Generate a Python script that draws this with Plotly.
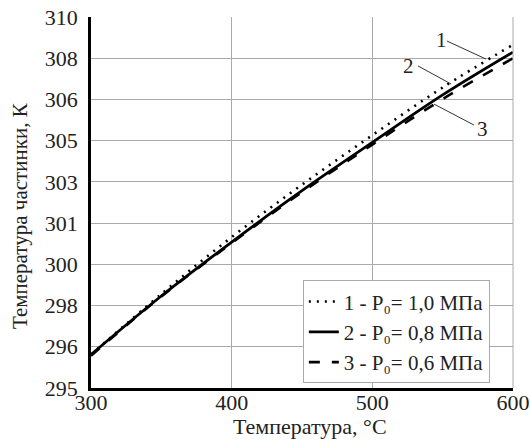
import plotly.graph_objects as go

# Data
temperature_c = [300, 350, 400, 450, 500, 550, 600]
t_p10 = [296.35, 298.80, 301.10, 303.22, 305.22, 307.15, 308.88]   # 1 - P0 = 1,0 MPa
t_p08 = [296.35, 298.72, 300.90, 302.98, 304.93, 306.85, 308.58]   # 2 - P0 = 0,8 MPa
t_p06 = [296.30, 298.70, 300.86, 302.92, 304.84, 306.68, 308.33]   # 3 - P0 = 0,6 MPa

series_names = ["1 - P₀= 1,0 МПа",
                "2 - P₀= 0,8 МПа",
                "3 - P₀= 0,6 МПа"]

x_ticks = [300, 400, 500, 600]
y_tickvals = [295 + k * 5 / 3 for k in range(10)]
y_ticktext = ["295", "296", "298", "300", "301", "303", "305", "306", "308", "310"]

FONT = "Liberation Serif"
FS = 22

fig = go.Figure()
fig.add_trace(go.Scatter(x=temperature_c, y=t_p10, mode="lines", name=series_names[0],
                         line=dict(color="black", width=2.6, dash="2px,6px", shape="spline")))
fig.add_trace(go.Scatter(x=temperature_c, y=t_p08, mode="lines", name=series_names[1],
                         line=dict(color="black", width=2.8, shape="spline")))
fig.add_trace(go.Scatter(x=temperature_c, y=t_p06, mode="lines", name=series_names[2],
                         line=dict(color="black", width=2.6, dash="11px,12px", shape="spline")))

# curve labels with leader lines
labels = [
    dict(text="1", tx=549.5, ty=309.07, x0=553, y0=309.03, x1=580.8, y1=308.30),
    dict(text="2", tx=526.0, ty=308.02, x0=532.5, y0=308.02, x1=556.0, y1=307.29),
    dict(text="3", tx=578.0, ty=305.47, x0=572.3, y0=305.63, x1=543.8, y1=306.48),
]
for lb in labels:
    fig.add_shape(type="line", xref="x", yref="y", x0=lb["x0"], y0=lb["y0"],
                  x1=lb["x1"], y1=lb["y1"], line=dict(color="#333", width=1))
    fig.add_annotation(x=lb["tx"], y=lb["ty"], xref="x", yref="y", text=lb["text"],
                       showarrow=False, font=dict(family=FONT, size=21, color="#222"))

fig.add_annotation(xref="paper", yref="paper", x=-0.168, y=0.4636,
                   text="Температура частинки, К", textangle=-90, showarrow=False,
                   xanchor="center", yanchor="middle",
                   font=dict(family=FONT, size=21, color="#222"))
fig.add_annotation(xref="paper", yref="paper", x=0.52, y=-0.104,
                   text="Температура, °C", showarrow=False,
                   xanchor="center", yanchor="middle",
                   font=dict(family=FONT, size=FS, color="#222"))

fig.update_layout(
    width=530, height=441,
    margin=dict(l=91, r=17, t=17, b=53, autoexpand=False),
    paper_bgcolor="white", plot_bgcolor="white",
    font=dict(family=FONT, size=FS, color="#222"),
    showlegend=True,
    legend=dict(x=0.502, y=0.29, xanchor="left", yanchor="top",
                bgcolor="white", bordercolor="#aaa", borderwidth=1,
                font=dict(family=FONT, size=21, color="#222"),
                tracegroupgap=0, itemwidth=30),
)
fig.update_xaxes(range=[300, 600], tickvals=x_ticks, ticktext=[str(v) for v in x_ticks],
                 showgrid=True, gridcolor="#aaa", gridwidth=1, automargin=False,
                 showline=True, linecolor="black", linewidth=2.5, mirror=False,
                 ticks="", zeroline=False, ticklabelstandoff=-7,
                 tickfont=dict(family=FONT, size=FS, color="#222"))
fig.update_yaxes(range=[295, 310], tickvals=y_tickvals, ticktext=y_ticktext,
                 showgrid=True, gridcolor="#aaa", gridwidth=1, automargin=False,
                 showline=True, linecolor="black", linewidth=2.5,
                 tickfont=dict(family=FONT, size=FS, color="#222"),
                 ticks="", zeroline=False, ticklabelstandoff=6)
# right/top frame in grey
fig.add_shape(type="line", xref="paper", yref="paper", x0=1, x1=1, y0=0, y1=1,
              line=dict(color="#aaa", width=1))

fig.write_html("out.html", config={"displayModeBar": False},
               post_script="document.body.style.margin='0';")
